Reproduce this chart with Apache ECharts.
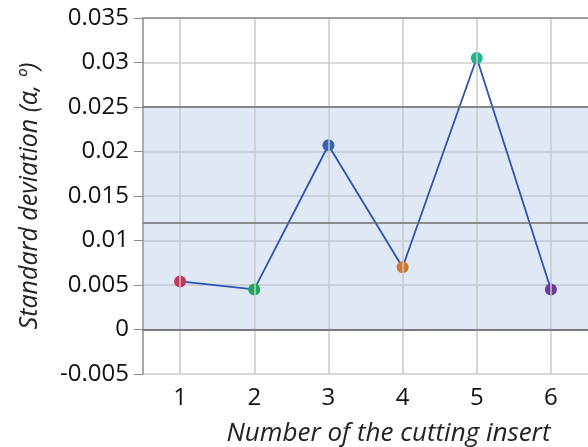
<!DOCTYPE html>
<html>
<head>
<meta charset="utf-8">
<script src="https://cdn.jsdelivr.net/npm/echarts@6/dist/echarts.min.js"></script>
<style>
  html, body { margin: 0; padding: 0; background: #ffffff; }
  #chart { width: 588px; height: 447px; }
</style>
</head>
<body>
<div id="chart"></div>
<script>
// Cutting inserts and their standard deviation of angle α
const inserts = ['1', '2', '3', '4', '5', '6'];
const stdDev = [0.0054, 0.0045, 0.0207, 0.0070, 0.0305, 0.0045];
const pointColors = ['#c7375b', '#1fa65a', '#3a62b8', '#d0772a', '#1db690', '#6b3a9c'];

// Control limits: lower, center, upper
const lowerLimit = 0;
const centerLine = 0.012;
const upperLimit = 0.025;

const yTicks = { min: -0.005, max: 0.035, step: 0.005 };

const font = '"Open Sans", "Noto Sans", sans-serif';

const chart = echarts.init(document.getElementById('chart'), null, { renderer: 'canvas' });

chart.setOption({
  animation: false,
  grid: { left: 143, right: 0, top: 18, bottom: 73, containLabel: false, outerBoundsMode: 'none' },
  xAxis: {
    type: 'category',
    data: inserts,
    boundaryGap: true,
    name: 'Number of the cutting insert',
    nameLocation: 'middle',
    nameGap: 47,
    nameTextStyle: {
      fontFamily: font, fontStyle: 'italic', fontSize: 26, color: '#222',
      padding: [0, 0, 0, 46]
    },
    axisLine: { lineStyle: { color: '#8a8a8a', width: 1.5 } },
    axisTick: { show: false },
    axisLabel: { fontFamily: font, fontSize: 24, color: '#111', margin: 12 },
    splitLine: { show: false }
  },
  yAxis: {
    type: 'value',
    min: yTicks.min,
    max: yTicks.max,
    interval: yTicks.step,
    name: 'Standard deviation (α, º)',
    nameLocation: 'middle',
    nameGap: 101,
    nameTextStyle: { fontFamily: font, fontStyle: 'italic', fontSize: 25, color: '#222' },
    axisLine: { show: true, lineStyle: { color: '#8a8a8a', width: 1.5 } },
    axisTick: { show: true, inside: false, length: 9, lineStyle: { color: '#8a8a8a' } },
    axisLabel: {
      fontFamily: font, fontSize: 24, color: '#111', margin: 14,
      formatter: v => String(parseFloat(v.toFixed(3)))
    },
    splitLine: { show: true, lineStyle: { color: '#cccccc', width: 1.5 } }
  },
  series: [
    {
      // vertical grid lines through each category
      type: 'line',
      data: [],
      z: 1,
      silent: true,
      markLine: {
        silent: true,
        symbol: 'none',
        label: { show: false },
        lineStyle: { color: '#c8c8c8', width: 1.5, type: 'solid' },
        data: inserts.map(c => ({ xAxis: c }))
      }
    },
    {
      // control band and limit lines
      type: 'line',
      data: [],
      z: 2,
      silent: true,
      markArea: {
        silent: true,
        itemStyle: { color: 'rgba(168, 192, 228, 0.36)' },
        data: [[{ yAxis: lowerLimit }, { yAxis: upperLimit }]]
      },
      markLine: {
        silent: true,
        precision: 4,
        symbol: 'none',
        label: { show: false },
        lineStyle: { color: '#6e6e6e', width: 1.5, type: 'solid' },
        data: [
          { yAxis: lowerLimit },
          { yAxis: centerLine },
          { yAxis: upperLimit },
          { yAxis: yTicks.max, lineStyle: { color: '#8c8c8c' } }
        ]
      }
    },
    {
      type: 'line',
      z: 3,
      data: stdDev.map((v, i) => ({ value: v, itemStyle: { color: pointColors[i] } })),
      symbol: 'circle',
      symbolSize: 12,
      lineStyle: { color: '#2b55b2', width: 1.8 },
      itemStyle: { borderWidth: 0 }
    }
  ]
});
</script>
</body>
</html>
